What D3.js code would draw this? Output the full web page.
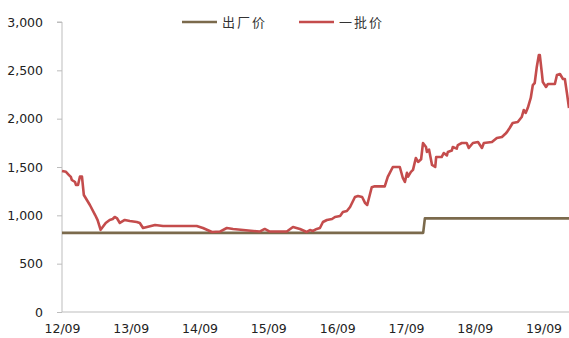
<!DOCTYPE html>
<html>
<head>
<meta charset="utf-8">
<script src="https://cdn.jsdelivr.net/npm/d3@7"></script>
<style>
  body { margin: 0; background: #fff; }
  svg { display: block; }
  .axis text { font-family: "DejaVu Sans", sans-serif; font-size: 12.5px; fill: #222; }
  .axis path, .axis line { stroke: #bdbdbd; }
  .legend text { font-family: "Noto Sans CJK SC", sans-serif; font-size: 13px; fill: #333; letter-spacing: 2px; }
</style>
</head>
<body>
<div id="chart"></div>
<script>
const seriesNames = ["出厂价", "一批价"];
const yTicks = [0, 500, 1000, 1500, 2000, 2500, 3000];
const xTicks = ["2012-09-01", "2013-09-01", "2014-09-01", "2015-09-01", "2016-09-01", "2017-09-01", "2018-09-01", "2019-09-01"];

// 出厂价
const factoryDates = ["2012-09-01", "2017-12-01", "2017-12-10", "2020-01-14"];
const factoryValues = [819, 819, 969, 969];

// 一批价
const wholesaleDates = [
  "2012-09-01", "2012-09-22", "2012-10-08", "2012-10-18", "2012-10-23", "2012-11-09", "2012-11-14", "2012-11-25",
  "2012-12-05", "2012-12-16", "2012-12-26", "2013-01-27", "2013-02-24", "2013-03-09", "2013-03-25", "2013-04-21",
  "2013-05-12", "2013-05-28", "2013-06-08", "2013-06-19", "2013-07-05", "2013-07-31", "2013-08-27", "2013-10-03",
  "2013-10-19", "2013-11-05", "2013-11-26", "2014-01-08", "2014-02-19", "2014-08-17", "2014-09-19", "2014-11-06",
  "2014-12-18", "2015-01-24", "2015-02-26", "2015-07-17", "2015-08-13", "2015-09-09", "2015-12-08", "2016-01-10",
  "2016-02-16", "2016-03-23", "2016-04-09", "2016-04-24", "2016-05-15", "2016-06-01", "2016-06-17", "2016-07-08",
  "2016-08-04", "2016-08-20", "2016-09-16", "2016-10-01", "2016-10-22", "2016-11-08", "2016-12-04", "2016-12-20",
  "2017-01-11", "2017-01-27", "2017-02-07", "2017-03-03", "2017-03-19", "2017-05-11", "2017-05-27", "2017-06-23",
  "2017-07-30", "2017-08-15", "2017-08-26", "2017-09-06", "2017-09-12", "2017-09-27", "2017-10-08", "2017-10-23",
  "2017-11-04", "2017-11-20", "2017-11-30", "2017-12-16", "2017-12-21", "2018-01-01", "2018-01-17", "2018-02-03",
  "2018-02-08", "2018-03-09", "2018-03-20", "2018-04-06", "2018-04-11", "2018-05-02", "2018-05-07", "2018-05-28",
  "2018-06-03", "2018-06-24", "2018-07-20", "2018-07-31", "2018-08-22", "2018-09-18", "2018-10-09", "2018-10-19",
  "2018-12-01", "2018-12-27", "2019-01-23", "2019-02-09", "2019-02-19", "2019-03-05", "2019-03-21", "2019-04-17",
  "2019-05-08", "2019-05-19", "2019-05-29", "2019-06-09", "2019-06-25", "2019-07-06", "2019-07-16", "2019-07-27",
  "2019-08-07", "2019-08-12", "2019-08-23", "2019-08-28", "2019-09-14", "2019-09-24", "2019-10-31", "2019-11-11",
  "2019-11-27", "2019-12-13", "2019-12-23", "2020-01-03", "2020-01-14"
];
const wholesaleValues = [
  1459, 1450, 1417, 1397, 1366, 1345, 1314, 1314,
  1400, 1400, 1210, 1107, 1003, 950, 850, 921,
  952, 962, 983, 972, 921, 952, 941, 931,
  921, 869, 879, 900, 890, 890, 869, 828,
  832, 869, 859, 832, 859, 832, 832, 879,
  859, 828, 848, 838, 859, 869, 931, 952,
  962, 983, 993, 1034, 1045, 1086, 1190, 1200,
  1190, 1127, 1107, 1290, 1300, 1300, 1397, 1500,
  1500, 1386, 1345, 1440, 1400, 1450, 1470, 1593,
  1552, 1580, 1748, 1707, 1655, 1680, 1521, 1500,
  1603, 1603, 1645, 1620, 1655, 1670, 1707, 1690,
  1727, 1748, 1748, 1697, 1748, 1759, 1697, 1748,
  1759, 1800, 1810, 1841, 1862, 1903, 1955, 1966,
  2017, 2090, 2060, 2110, 2214, 2348, 2369, 2535,
  2659, 2659, 2472, 2379, 2328, 2359, 2359, 2452,
  2462, 2410, 2410, 2266, 2110
];

const colors = ["#7b6a4c", "#c44c4c"];

const W = 569, H = 338;
const margin = { top: 22, right: 0, bottom: 26, left: 62 };

const parse = d3.timeParse("%Y-%m-%d");

const svg = d3.select("#chart").append("svg")
  .attr("width", W)
  .attr("height", H);

const x = d3.scaleTime()
  .domain([parse("2012-09-01"), parse("2020-01-14")])
  .range([margin.left, W - margin.right]);

const y = d3.scaleLinear()
  .domain([0, 3000])
  .range([H - margin.bottom, margin.top]);

// y axis
svg.append("g")
  .attr("class", "axis y-axis")
  .attr("transform", `translate(${margin.left},0)`)
  .call(d3.axisLeft(y).tickValues(yTicks).tickSize(5).tickPadding(14).tickFormat(d3.format(",")))
  .call(g => g.select(".domain").attr("d", `M-5,${y(3000)}H0V${y(0)}`));

// x axis
svg.append("g")
  .attr("class", "axis x-axis")
  .attr("transform", `translate(0,${y(0)})`)
  .call(d3.axisBottom(x).tickValues(xTicks.map(parse)).tickSize(0).tickPadding(12).tickFormat(d3.timeFormat("%y/%m")))
  .call(g => g.select(".domain").attr("d", `M${margin.left},0H${W}`));

const line = d3.line()
  .x(d => x(d.date))
  .y(d => y(d.value));

const factory = factoryDates.map((d, i) => ({ date: parse(d), value: factoryValues[i] }));
const wholesale = wholesaleDates.map((d, i) => ({ date: parse(d), value: wholesaleValues[i] }));

[factory, wholesale].forEach((data, i) => {
  svg.append("path")
    .datum(data)
    .attr("fill", "none")
    .attr("stroke", colors[i])
    .attr("stroke-width", 2.6)
    .attr("stroke-linejoin", "round")
    .attr("d", line);
});

// legend
const legend = svg.append("g").attr("class", "legend");
const legendX = [182, 299];
seriesNames.forEach((name, i) => {
  const g = legend.append("g").attr("transform", `translate(${legendX[i]},22)`);
  g.append("line")
    .attr("x1", 0).attr("x2", 35)
    .attr("stroke", colors[i])
    .attr("stroke-width", 2.6);
  g.append("text")
    .attr("x", 40)
    .attr("dy", "0.35em")
    .text(name);
});
</script>
</body>
</html>
